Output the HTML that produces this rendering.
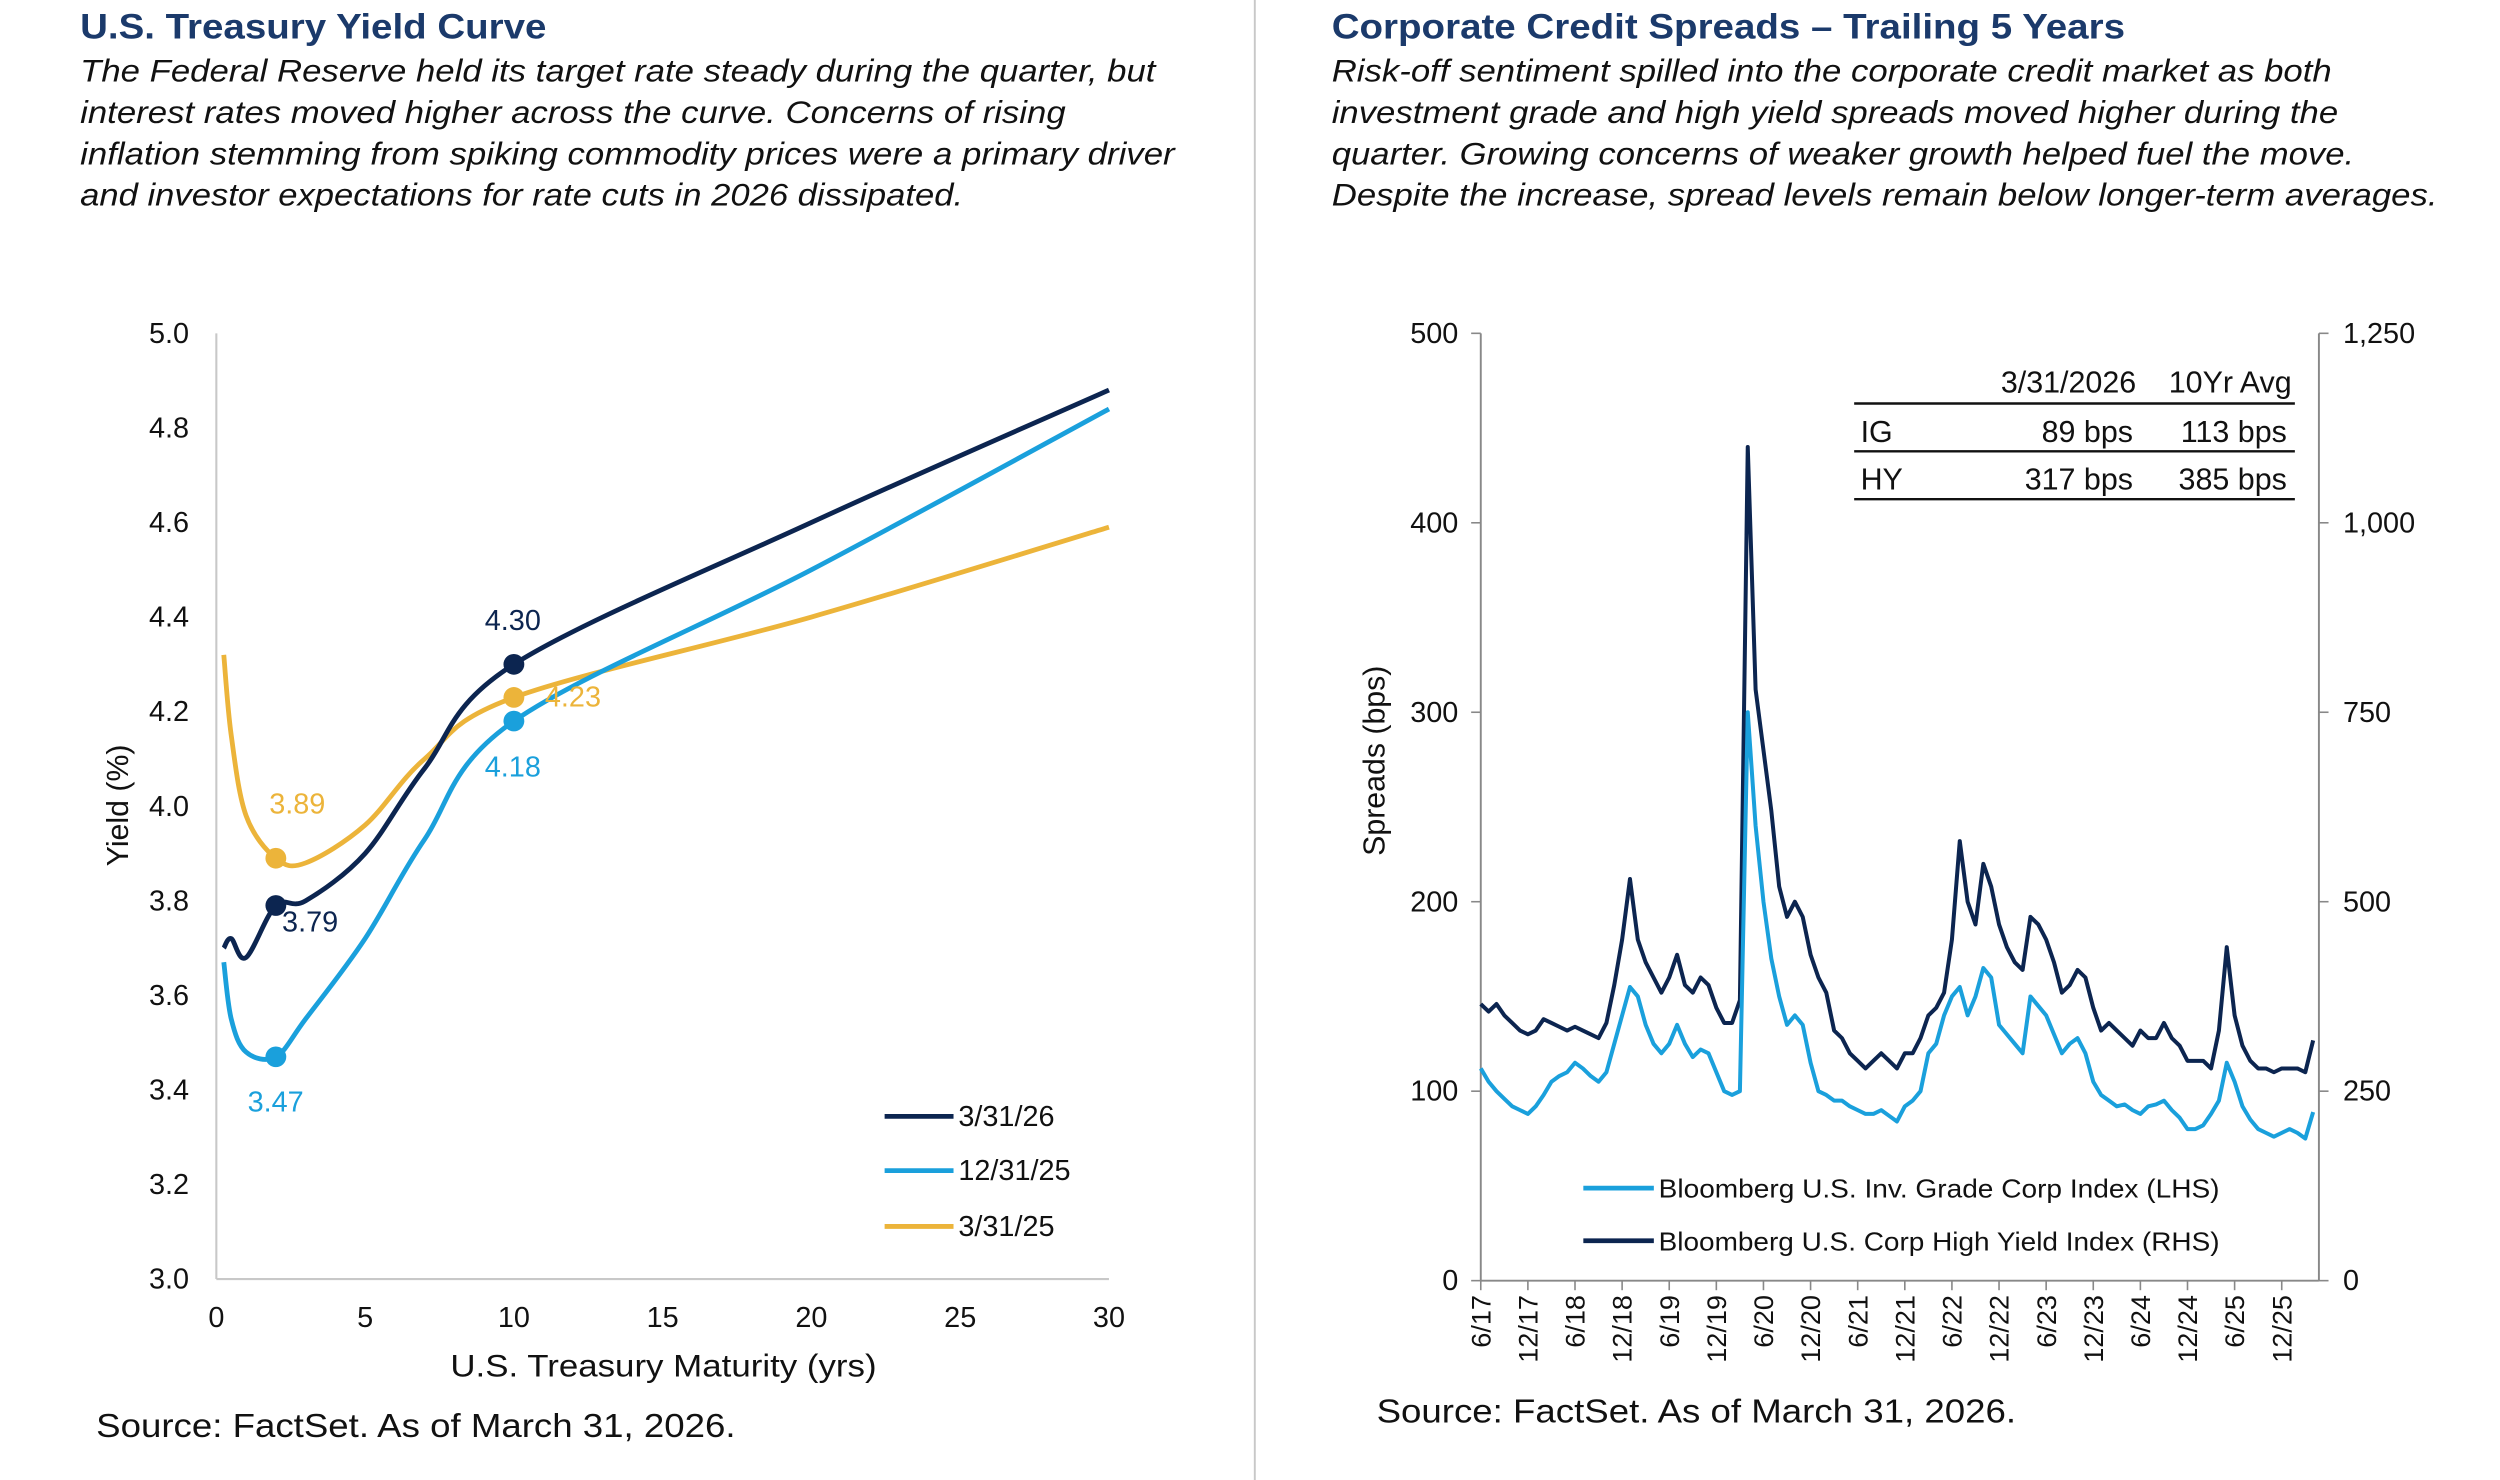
<!DOCTYPE html>
<html><head><meta charset="utf-8">
<style>
html,body{margin:0;padding:0;background:#fff;}
svg{display:block;}
text{font-family:"Liberation Sans",Arial,sans-serif;}
</style></head>
<body>
<svg id="root" width="2500" height="1480" viewBox="0 0 1560 928" preserveAspectRatio="none" xmlns="http://www.w3.org/2000/svg">
<rect width="1560" height="928" fill="#fff"/>
<line x1="783" y1="0" x2="783" y2="928" stroke="#c8c8c8" stroke-width="1.2"/>

<g>
<text x="50" y="24" font-size="22" font-weight="bold" fill="#1b3a6b" textLength="291" lengthAdjust="spacingAndGlyphs">U.S. Treasury Yield Curve</text>
<g font-size="20" font-style="italic" fill="#111">
<text x="50" y="51" textLength="671" lengthAdjust="spacingAndGlyphs">The Federal Reserve held its target rate steady during the quarter, but</text>
<text x="50" y="77" textLength="615" lengthAdjust="spacingAndGlyphs">interest rates moved higher across the curve. Concerns of rising</text>
<text x="50" y="103" textLength="683" lengthAdjust="spacingAndGlyphs">inflation stemming from spiking commodity prices were a primary driver</text>
<text x="50" y="129" textLength="551" lengthAdjust="spacingAndGlyphs">and investor expectations for rate cuts in 2026 dissipated.</text>
</g>
<g id="yc"></g>
<text x="60" y="901" font-size="21" fill="#111" textLength="399" lengthAdjust="spacingAndGlyphs">Source: FactSet. As of March 31, 2026.</text>
</g>

<g>
<text x="831" y="24" font-size="22" font-weight="bold" fill="#1b3a6b" textLength="495" lengthAdjust="spacingAndGlyphs">Corporate Credit Spreads – Trailing 5 Years</text>
<g font-size="20" font-style="italic" fill="#111">
<text x="831" y="51" textLength="624" lengthAdjust="spacingAndGlyphs">Risk-off sentiment spilled into the corporate credit market as both</text>
<text x="831" y="77" textLength="628" lengthAdjust="spacingAndGlyphs">investment grade and high yield spreads moved higher during the</text>
<text x="831" y="103" textLength="638" lengthAdjust="spacingAndGlyphs">quarter. Growing concerns of weaker growth helped fuel the move.</text>
<text x="831" y="129" textLength="690" lengthAdjust="spacingAndGlyphs">Despite the increase, spread levels remain below longer-term averages.</text>
</g>
<g id="cs"></g>
<g font-size="19" fill="#111">
<text x="1333" y="246" text-anchor="end">3/31/2026</text>
<text x="1430" y="246" text-anchor="end">10Yr Avg</text>
<line x1="1157" y1="253" x2="1432" y2="253" stroke="#111" stroke-width="1.5"/>
<text x="1161" y="277">IG</text>
<text x="1331" y="277" text-anchor="end">89 bps</text>
<text x="1427" y="277" text-anchor="end">113 bps</text>
<line x1="1157" y1="283" x2="1432" y2="283" stroke="#111" stroke-width="1.5"/>
<text x="1161" y="307">HY</text>
<text x="1331" y="307" text-anchor="end">317 bps</text>
<text x="1427" y="307" text-anchor="end">385 bps</text>
<line x1="1157" y1="313" x2="1432" y2="313" stroke="#111" stroke-width="1.5"/>
</g>
<text x="859" y="892" font-size="21" fill="#111" textLength="399" lengthAdjust="spacingAndGlyphs">Source: FactSet. As of March 31, 2026.</text>
</g>
</svg>
<script>
const NS="http://www.w3.org/2000/svg";
// ---- Yield curve data ----
const maturities=[0.25,0.5,1,2,3,5,7,10,20,30];
const yields2026=[3.70,3.72,3.68,3.79,3.80,3.90,4.08,4.30,4.60,4.88];
const yields2025Dec=[3.67,3.55,3.48,3.47,3.55,3.72,3.93,4.18,4.50,4.84];
const yields2025Mar=[4.32,4.15,3.98,3.89,3.88,3.96,4.10,4.23,4.40,4.59];
const yieldTicks=[3.0,3.2,3.4,3.6,3.8,4.0,4.2,4.4,4.6,4.8,5.0];
const maturityTicks=[0,5,10,15,20,25,30];
// ---- Credit spread data (monthly, 6/2017 - 3/2026) ----
const monthLabels=["6/17","12/17","6/18","12/18","6/19","12/19","6/20","12/20","6/21","12/21","6/22","12/22","6/23","12/23","6/24","12/24","6/25","12/25"];
const igSpread=[112,105,100,96,92,90,88,92,98,105,108,110,115,112,108,105,110,125,140,155,150,135,125,120,125,135,125,118,122,120,110,100,98,100,300,240,200,170,150,135,140,135,115,100,98,95,95,92,90,88,88,90,87,84,92,95,100,120,125,140,150,155,140,150,165,160,135,130,125,120,150,145,140,130,120,125,128,120,105,98,95,92,93,90,88,92,93,95,90,86,80,80,82,88,95,115,105,92,85,80,78,76,78,80,78,75,89];
const hySpread=[365,355,365,350,340,330,325,330,345,340,335,330,335,330,325,320,340,390,450,530,450,420,400,380,400,430,390,380,400,390,360,340,340,370,1100,780,700,620,520,480,500,480,430,400,380,330,320,300,290,280,290,300,290,280,300,300,320,350,360,380,450,580,500,470,550,520,470,440,420,410,480,470,450,420,380,390,410,400,360,330,340,330,320,310,330,320,320,340,320,310,290,290,290,280,330,440,350,310,290,280,280,275,280,280,280,275,317];
const lhsTicks=[0,100,200,300,400,500];
const rhsTicks=["0","250","500","750","1,000","1,250"];

function el(tag,attrs,parent,txt){const e=document.createElementNS(NS,tag);for(const k in attrs)e.setAttribute(k,attrs[k]);if(txt!==undefined)e.textContent=txt;parent.appendChild(e);return e;}

// ---- Yield chart ----
(function(){
const g=document.getElementById('yc');
const X=v=>135+(v/30)*(692-135);
const Y=v=>802-(v-3)/2*(802-209);
el('line',{x1:135,y1:209,x2:135,y2:802,stroke:'#c8c8c8','stroke-width':1.3},g);
el('line',{x1:135,y1:802,x2:692,y2:802,stroke:'#c8c8c8','stroke-width':1.3},g);
yieldTicks.forEach(t=>{const e=el('text',{x:118,y:Y(t)+6,'font-size':18,'text-anchor':'end',fill:'#111'},g,t.toFixed(1));

});
maturityTicks.forEach(t=>{const e=el('text',{x:X(t),y:832,'font-size':18,'text-anchor':'middle',fill:'#111'},g,String(t));

});
const yt=el('text',{x:0,y:0,'font-size':19,'text-anchor':'middle',fill:'#111',transform:'translate(80,505) rotate(-90)'},g,'Yield (%)');


const xt=el('text',{x:414,y:863,'font-size':20,'text-anchor':'middle',fill:'#111',textLength:266,lengthAdjust:'spacingAndGlyphs'},g,'U.S. Treasury  Maturity (yrs)');


function smooth(xs,ys){const p=xs.map((x,i)=>[X(x),Y(ys[i])]);let d='M'+p[0][0]+','+p[0][1];
for(let i=0;i<p.length-1;i++){const p0=p[i-1]||p[i],p1=p[i],p2=p[i+1],p3=p[i+2]||p2;
const c1=[p1[0]+(p2[0]-p0[0])/6,p1[1]+(p2[1]-p0[1])/6],c2=[p2[0]-(p3[0]-p1[0])/6,p2[1]-(p3[1]-p1[1])/6];
d+=` C${c1[0]},${c1[1]} ${c2[0]},${c2[1]} ${p2[0]},${p2[1]}`;}return d;}
const series=[[yields2025Mar,'#ecb43a','curve-3-31-25'],[yields2025Dec,'#1aa0dc','curve-12-31-25'],[yields2026,'#0c2550','curve-3-31-26']];
series.forEach(s=>{const p=el('path',{d:smooth(maturities,s[0]),fill:'none',stroke:s[1],'stroke-width':3},g);


[3,7].forEach(i=>{const c=el('circle',{cx:X(maturities[i]),cy:Y(s[0][i]),r:6.5,fill:s[1]},g);

});});
const labs=[[yields2026,3,'#0c2550',176,584,'start'],[yields2026,7,'#0c2550',320,395,'middle'],[yields2025Dec,3,'#1aa0dc',172,697,'middle'],[yields2025Dec,7,'#1aa0dc',320,487,'middle'],[yields2025Mar,3,'#ecb43a',168,510,'start'],[yields2025Mar,7,'#ecb43a',340,443,'start']];
labs.forEach(l=>{const t=el('text',{x:l[3],y:l[4],'font-size':18,'text-anchor':l[5],fill:l[2]},g,l[0][l[1]].toFixed(2));

});
const leg=[['3/31/26','#0c2550',700],['12/31/25','#1aa0dc',734],['3/31/25','#ecb43a',769]];
leg.forEach(l=>{const lg=el('g',{},g);


el('line',{x1:552,y1:l[2],x2:595,y2:l[2],stroke:l[1],'stroke-width':3},lg);
el('text',{x:598,y:l[2]+6,'font-size':18,fill:'#111'},lg,l[0]);});
})();

// ---- Credit spreads chart ----
(function(){
const g=document.getElementById('cs');
const x0=924,halfYear=29.4;
const X=i=>x0+i*(halfYear/6);
const YL=v=>803-v*(803-209)/500;
const YR=v=>803-v*(803-209)/1250;
el('line',{x1:924,y1:209,x2:924,y2:803,stroke:'#888','stroke-width':1.2},g);
el('line',{x1:1447,y1:209,x2:1447,y2:803,stroke:'#888','stroke-width':1.2},g);
el('line',{x1:924,y1:803,x2:1447,y2:803,stroke:'#888','stroke-width':1.2},g);
lhsTicks.forEach((t,i)=>{el('line',{x1:918,y1:YL(t),x2:924,y2:YL(t),stroke:'#888'},g);
const e=el('text',{x:910,y:YL(t)+6,'font-size':18,'text-anchor':'end',fill:'#111'},g,String(t));


el('line',{x1:1447,y1:YL(t),x2:1453,y2:YL(t),stroke:'#888'},g);
const r=el('text',{x:1462,y:YL(t)+6,'font-size':18,fill:'#111'},g,rhsTicks[i]);

});
monthLabels.forEach((m,i)=>{const x=x0+i*halfYear;el('line',{x1:x,y1:803,x2:x,y2:809,stroke:'#888'},g);
const t=el('text',{x:0,y:0,'font-size':17,'text-anchor':'end',fill:'#111',transform:`translate(${x+6},812) rotate(-90)`},g,m);

});
const yt=el('text',{x:0,y:0,'font-size':19,'text-anchor':'middle',fill:'#111',transform:'translate(864,477) rotate(-90)'},g,'Spreads (bps)');


const hy=el('polyline',{points:hySpread.map((v,i)=>X(i)+','+YR(v)).join(' '),fill:'none',stroke:'#0c2550','stroke-width':2.5,'stroke-linejoin':'round'},g);


const ig=el('polyline',{points:igSpread.map((v,i)=>X(i)+','+YL(v)).join(' '),fill:'none',stroke:'#1aa0dc','stroke-width':2.5,'stroke-linejoin':'round'},g);


const leg=[['Bloomberg U.S. Inv. Grade Corp Index (LHS)','#1aa0dc',745],['Bloomberg U.S. Corp High Yield Index (RHS)','#0c2550',778]];
leg.forEach(l=>{const lg=el('g',{},g);


el('line',{x1:988,y1:l[2],x2:1032,y2:l[2],stroke:l[1],'stroke-width':3},lg);
el('text',{x:1035,y:l[2]+6,'font-size':16.5,fill:'#111',textLength:350,lengthAdjust:'spacingAndGlyphs'},lg,l[0]);});
})();
</script>
</body></html>
